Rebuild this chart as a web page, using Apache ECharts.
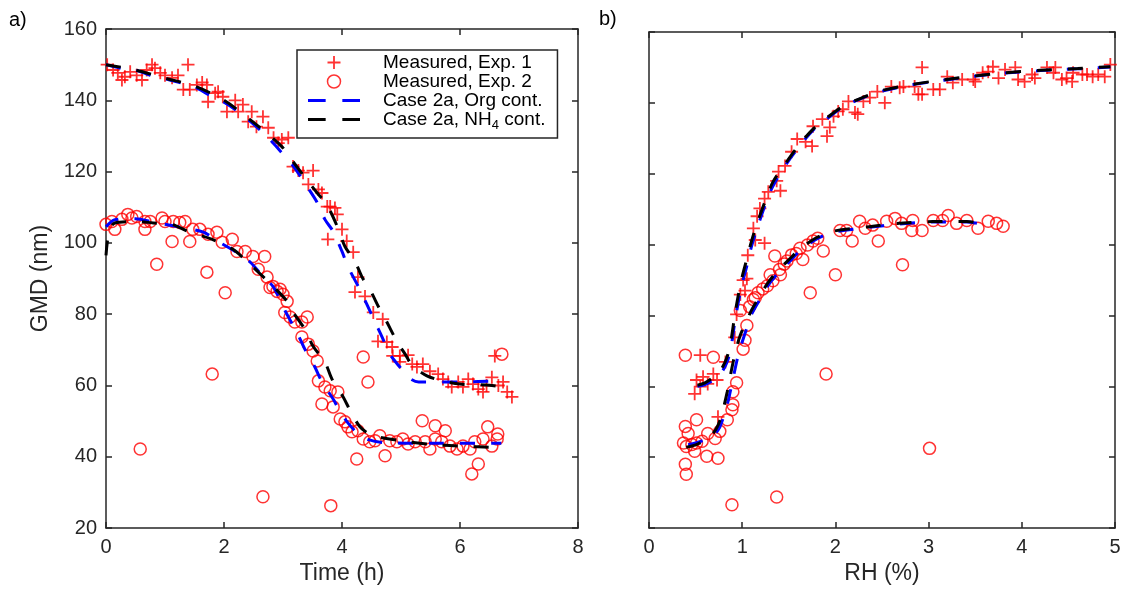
<!DOCTYPE html>
<html lang="en">
<head>
<meta charset="utf-8">
<title>GMD vs time and RH</title>
<script src="https://cdn.jsdelivr.net/npm/echarts@6.0.0/dist/echarts.min.js"></script>
<style>
  html, body { margin: 0; padding: 0; background: #fff; }
  #main { width: 1130px; height: 590px; }
</style>
</head>
<body>
<div id="main"></div>
<script>
// ---- data ----
// panel a) GMD (nm) vs time (h)
var timeExp1 = [[0.02,150],[0.12,148.5],[0.2,147.7],[0.27,145.7],[0.32,146.6],[0.41,148],[0.52,147],[0.61,145.7],
  [0.69,148.5],[0.78,150],[0.83,149],[0.92,147.7],[1.0,147],[1.12,146.3],[1.22,147],[1.31,143],[1.39,150],[1.42,143],
  [1.54,144.3],[1.63,145],[1.71,144.3],[1.73,139.6],[1.85,142],[1.9,142.4],[1.98,141],[2.05,136.8],[2.19,140],
  [2.24,136.8],[2.32,138.8],[2.41,134],[2.47,136.8],[2.55,132.6],[2.66,135.4],[2.75,132.3],[2.84,129.5],[2.92,128],
  [2.98,129],[3.09,129.5],[3.17,121.4],[3.26,120.3],[3.34,119.7],[3.43,116.4],[3.51,120.3],[3.6,115],[3.66,114],
  [3.75,110.2],[3.8,110.2],[3.76,101],[3.88,109.8],[3.92,108],[4.0,103.8],[4.08,100.5],[4.19,97.4],[4.22,86.2],
  [4.27,90.4],[4.39,85],[4.53,80.5],[4.61,72.4],[4.69,78.6],[4.76,72.2],[4.85,70.8],[4.86,68.3],[4.98,66.6],
  [4.98,68.3],[5.12,68.5],[5.19,66],[5.27,65.2],[5.37,66],[5.49,64],[5.63,63.2],[5.71,61.8],[5.8,61],[5.86,59.6],
  [5.97,61],[6.05,59.6],[6.14,61.8],[6.22,60.4],[6.31,59],[6.39,58.2],[6.45,60],[6.54,62.3],[6.59,68.3],[6.65,60],
  [6.73,61],[6.8,58.2],[6.88,56.8]];
var timeExp2 = [[0,105.2],[0.1,106],[0.15,103.8],[0.27,106.6],[0.37,108],[0.44,107],[0.52,107.4],[0.58,42.2],
  [0.66,106],[0.66,103.8],[0.75,106],[0.86,94],[0.95,107],[1.0,106],[1.12,100.4],[1.14,106],[1.25,105.7],[1.34,106],
  [1.42,100.4],[1.47,103.8],[1.59,103.8],[1.71,91.8],[1.73,102.4],[1.8,63.2],[1.88,103],[1.97,100.2],[2.02,86],
  [2.14,101],[2.22,97.6],[2.36,97.6],[2.49,96.2],[2.58,92.6],[2.66,28.8],[2.69,96.2],[2.73,90.4],[2.78,87.5],
  [2.83,87.8],[2.9,86.4],[2.95,87],[3.0,85.6],[3.07,83.6],[3.03,80.5],[3.12,79.2],[3.2,77.8],[3.32,77.8],[3.41,79.2],
  [3.32,73.6],[3.43,71.6],[3.51,69.7],[3.58,66.9],[3.6,61.3],[3.71,59.6],[3.8,58.5],[3.81,26.3],[3.93,58.2],
  [3.66,54.8],[3.85,54],[3.97,50.6],[4.05,49.8],[4.1,48.4],[4.17,47],[4.25,39.4],[4.27,47.3],[4.36,45],[4.36,68],
  [4.44,61],[4.47,44.2],[4.56,44.5],[4.64,45.9],[4.73,40.3],[4.81,44.5],[4.93,44.2],[5.03,45],[5.12,43.6],
  [5.24,44.2],[5.36,50.1],[5.41,44.2],[5.49,42.2],[5.58,48.7],[5.58,45],[5.69,44.2],[5.75,47.3],[5.83,43],
  [5.95,42.2],[6.05,43],[6.17,42.2],[6.25,44.2],[6.2,35.2],[6.31,38],[6.39,45],[6.47,48.4],[6.54,43],[6.63,45],
  [6.64,46.4],[6.71,68.8]];
var timeOrg1 = [[0,150],[0.25,149],[0.5,148.5],[0.75,147],[1.0,146],[1.25,145],[1.5,143.8],[1.75,141.5],[2.0,139.5],
  [2.2,137.3],[2.45,134],[2.7,130.3],[2.98,125.3],[3.2,121],[3.4,116],[3.57,111.6],[3.71,106.6],[3.85,103.2],
  [4.0,97.6],[4.1,93.4],[4.3,87],[4.42,82.8],[4.56,77.8],[4.68,73.6],[4.81,68.8],[4.98,65.2],[5.15,62],[5.3,61],
  [6.0,61],[6.7,61.3]];
var timeNh1 = [[0,150],[0.5,148.5],[1,146.2],[1.5,144],[2,140],[2.5,133.8],[2.98,127],[3.17,122.8],[3.4,117.8],
  [3.57,114.2],[3.74,110.8],[3.92,104.6],[4.05,99],[4.22,94.8],[4.34,90.4],[4.47,87],[4.64,81.4],[4.76,77.8],
  [4.93,72.4],[5.07,68.8],[5.2,65.5],[5.44,62.7],[5.7,61.3],[6.0,60.4],[6.5,60.1],[6.7,59.6]];
var timeOrg2 = [[0,104.5],[0.15,106.5],[0.5,106.8],[0.8,105.8],[1.2,104.6],[1.65,103],[1.88,100.6],[2.2,97.5],
  [2.45,94.5],[2.66,90.6],[2.83,87.8],[2.95,84],[3.05,80.5],[3.25,74.4],[3.37,70.2],[3.54,65.2],[3.66,61],
  [3.85,56.2],[3.97,52.6],[4.1,49.5],[4.25,46.8],[4.45,44.8],[4.7,44],[5.5,43.8],[6.7,43.8]];
var timeNh2 = [[0,96.5],[0.05,103],[0.15,105.6],[0.5,106],[0.8,105.6],[1.12,105.2],[1.39,103.2],[1.8,101],
  [2.15,98.2],[2.39,94.8],[2.6,91.5],[2.85,87.5],[3.07,83.6],[3.17,80.6],[3.37,75.8],[3.51,71],[3.71,66.6],
  [3.83,61.8],[4.02,56.8],[4.14,52.9],[4.3,48.5],[4.45,46.5],[4.6,45.6],[5.0,44.5],[5.5,43.5],[6.0,43],[6.7,42.6]];

// panel b) GMD (nm) vs RH (%)
var rhExp1 = [[2.93,150],[4.95,150.8],[4.82,148],[4.7,148],[4.55,148.5],[4.48,147],[4.43,146.6],[4.34,148.5],
  [4.27,150],[4.11,148],[3.96,146.6],[3.82,149.4],[3.75,147],[3.69,150.2],[3.58,148.5],[3.48,146.6],[3.36,146.6],
  [3.26,145.7],[3.2,147.4],[3.05,143.8],[2.89,142.4],[2.85,144.6],[2.69,144.3],[2.6,144.6],[2.53,140],[2.45,143.2],
  [2.37,141.5],[2.3,140.4],[2.24,136.8],[2.21,137.3],[2.14,140.4],[2.08,138.2],[2.03,137.6],[1.98,136.2],
  [1.94,133.1],[1.91,130.6],[1.86,135.4],[1.76,133.4],[1.75,127.8],[1.68,129],[1.59,129.8],[1.53,126.2],
  [1.46,122.2],[1.39,120.6],[1.37,118],[1.41,115.2],[1.28,114.9],[1.24,113],[1.19,110.2],[1.16,108],[1.12,104.6],
  [1.24,100.4],[1.14,101.3],[1.06,97],[1.01,90],[1.03,87],[1.05,90.4],[0.98,85.9],[0.94,80.3],[0.92,73.8],
  [0.55,68.8],[0.82,66.9],[0.51,61.8],[0.58,62.7],[0.63,60.7],[0.69,63.5],[0.73,61.8],[0.49,57.9],[0.55,59.9],
  [0.74,51.4],[3.5,146],[3.64,148.8],[3.93,150],[4.03,146],[4.14,147],[4.36,150],[4.54,146],[4.65,148],
  [4.76,147.4],[4.89,147.4],[2.73,144.6],[2.93,142.4],[3.12,143.8]];
var rhExp2 = [[3.8,105.2],[3.73,106],[3.64,106.6],[3.53,104.6],[3.41,106.8],[3.3,106],[3.21,108.2],[3.15,106.8],
  [3.05,106.8],[2.93,104],[2.83,106.8],[2.82,104],[2.71,106],[2.64,107.4],[2.55,106.6],[2.46,101],[2.4,105.5],
  [2.32,104.6],[2.26,106.6],[2.18,101],[2.12,104],[2.05,104],[2.0,91.5],[1.87,98.2],[1.81,101.8],[1.76,101],
  [1.7,99.9],[1.65,95.8],[1.53,97.1],[1.48,95.4],[1.35,96.8],[1.41,91.5],[1.3,91.5],[1.73,86.4],[2.72,94.3],
  [1.9,63.5],[3.01,42.5],[1.37,28.8],[0.89,26.6],[0.39,68.8],[0.69,68.2],[0.94,61],[0.9,58.5],[0.9,54.8],
  [0.89,53.4],[0.84,50.6],[0.76,47.3],[0.74,39.7],[0.62,40.3],[0.51,50.6],[0.39,48.7],[0.42,46.7],[0.39,38],
  [0.4,35.2],[0.37,44],[0.4,43],[0.46,43.6],[0.51,44],[0.57,44.5],[0.63,46.7],[0.71,45.3],[0.49,41.7],[0.98,81.4],
  [1.05,77.2],[1.03,73],[1.01,70.5],[1.14,85],[1.17,86.4],[1.27,88.4],[1.33,89.8],[1.08,82.5],[1.12,84.5],
  [1.22,87.5],[1.4,93],[1.45,94.5],[1.58,97.5],[1.62,99]];
var rhOrg1 = [[0.52,60],[0.6,60.5],[0.7,62],[0.78,64],[0.84,67],[0.88,71],[0.92,78],[0.96,84],[1.0,89],[1.05,94],
  [1.1,99.5],[1.16,104.6],[1.25,111.5],[1.33,116.5],[1.48,123],[1.6,127.3],[1.76,132.3],[1.9,135.3],[2.08,138.8],
  [2.3,141.5],[2.5,143.3],[2.8,145],[3.05,146],[3.4,147.2],[3.77,148.3],[4.2,149.1],[4.6,149.6],[4.95,150.1]];
var rhNh1 = [[0.52,60.3],[0.6,61],[0.7,62.8],[0.78,65],[0.84,68.5],[0.88,73],[0.92,80],[0.96,86],[1.0,91],[1.05,96],
  [1.1,101],[1.16,106],[1.25,112.5],[1.33,117.7],[1.48,123.5],[1.6,127.8],[1.76,132.6],[1.9,135.6],[2.08,139],
  [2.3,141.6],[2.5,143.5],[2.8,145.1],[3.05,146.1],[3.4,147.3],[3.77,148.4],[4.2,149.2],[4.6,149.7],[4.95,150.2]];
var rhOrg2 = [[0.42,43.5],[0.5,44],[0.6,45],[0.7,46.4],[0.76,48.5],[0.8,51.5],[0.85,56],[0.9,62],[0.95,68],[1.0,72.5],
  [1.05,76.5],[1.1,80.3],[1.2,85],[1.27,88.2],[1.37,91.5],[1.53,95.8],[1.62,98.2],[1.8,101.6],[1.98,103.5],
  [2.34,104.8],[2.69,105.8],[3.05,106.4],[3.41,106.4],[3.65,105.3]];
var rhNh2 = [[0.4,42.8],[0.5,43.5],[0.6,44.8],[0.68,46.5],[0.74,49],[0.79,53],[0.84,58.5],[0.88,64],[0.93,70],
  [0.98,74.5],[1.05,78.5],[1.1,81.5],[1.2,86],[1.27,89],[1.37,92.3],[1.53,96.5],[1.62,98.8],[1.8,102],[1.98,103.8],
  [2.34,105],[2.69,106],[3.05,106.5],[3.41,106.5],[3.65,105.5]];

var names = ['Measured, Exp. 1', 'Measured, Exp. 2', 'Case 2a, Org cont.', 'Case 2a, NH4 cont.'];

// ---- styles ----
var axisColor = '#262626';
var fontFamily = 'Liberation Sans, Arial, Helvetica, sans-serif';
var red = '#ff0000', blue = '#0000ff', black = '#000000';
var crossPath = 'path://M5.6,0H7.4V5.6H13V7.4H7.4V13H5.6V7.4H0V5.6H5.6Z';
var dashPath = 'path://M0,0H18V3H0Z M35,0H53V3H35Z';
var dash = [15, 16];

var myChart = echarts.init(document.getElementById('main'));

function makeXAxis(grid, max, interval, pos, name) {
    return {
        gridIndex: grid, type: 'value', position: pos, min: 0, max: max, interval: interval,
        name: name, nameLocation: 'middle', nameGap: 28,
        nameTextStyle: { fontFamily: fontFamily, fontSize: 23, color: axisColor },
        axisLine: { show: true, onZero: false, lineStyle: { color: axisColor, width: 1.5 } },
        axisTick: { show: true, inside: true, length: 6, lineStyle: { color: axisColor, width: 1.5 } },
        axisLabel: { show: pos === 'bottom', margin: 9, fontFamily: fontFamily, fontSize: 20, color: axisColor },
        splitLine: { show: false }
    };
}

function makeYAxis(grid, pos, labels, name) {
    return {
        gridIndex: grid, type: 'value', position: pos, min: 20, max: 160, interval: 20,
        name: name, nameLocation: 'middle', nameGap: 54,
        nameTextStyle: { fontFamily: fontFamily, fontSize: 23, color: axisColor },
        axisLine: { show: true, onZero: false, lineStyle: { color: axisColor, width: 1.5 } },
        axisTick: { show: true, inside: true, length: 6, lineStyle: { color: axisColor, width: 1.5 } },
        axisLabel: { show: labels, margin: 9, fontFamily: fontFamily, fontSize: 20, color: axisColor },
        splitLine: { show: false }
    };
}

function crossSeries(x, y, data) {
    return {
        name: names[0], type: 'scatter', xAxisIndex: x, yAxisIndex: y, data: data,
        symbol: crossPath, symbolSize: 13, itemStyle: { color: red }, z: 2
    };
}
function circleSeries(x, y, data) {
    return {
        name: names[1], type: 'scatter', xAxisIndex: x, yAxisIndex: y, data: data,
        symbol: 'circle', symbolSize: 12,
        itemStyle: { color: 'rgba(0,0,0,0)', borderColor: red, borderWidth: 1.5 }, z: 2
    };
}
function curveSeries(name, color, x, y, data) {
    return {
        name: name, type: 'line', xAxisIndex: x, yAxisIndex: y, data: data,
        showSymbol: false, symbol: 'none', smooth: 0.3, z: 3,
        itemStyle: { color: color },
        lineStyle: { color: color, width: 3, type: dash }
    };
}

option = {
    animation: false,
    backgroundColor: '#fff',
    title: [
        { text: 'a)', left: 9, top: 10, padding: 0, textStyle: { fontFamily: fontFamily, fontSize: 20, fontWeight: 'normal', color: '#000' } },
        { text: 'b)', left: 599, top: 9, padding: 0, textStyle: { fontFamily: fontFamily, fontSize: 20, fontWeight: 'normal', color: '#000' } }
    ],
    grid: [
        { left: 106, top: 29, width: 472, height: 500 },
        { left: 649, top: 32, width: 466, height: 500 }
    ],
    xAxis: [
        makeXAxis(0, 8, 2, 'bottom', 'Time (h)'),
        makeXAxis(0, 8, 2, 'top', ''),
        makeXAxis(1, 5, 1, 'bottom', 'RH (%)'),
        makeXAxis(1, 5, 1, 'top', '')
    ],
    yAxis: [
        makeYAxis(0, 'left', true, 'GMD (nm)'),
        makeYAxis(0, 'right', false, ''),
        makeYAxis(1, 'left', false, ''),
        makeYAxis(1, 'right', false, '')
    ],
    legend: {
        orient: 'vertical', left: 297, top: 50,
        padding: [3, 12, 6, 11], itemGap: 0, itemWidth: 52, itemHeight: 13,
        borderColor: axisColor, borderWidth: 1.5, backgroundColor: '#fff',
        selectedMode: false,
        data: [
            { name: names[0], icon: crossPath, itemStyle: { color: red, borderWidth: 0 } },
            { name: names[1], icon: 'circle', itemStyle: { color: 'rgba(0,0,0,0)', borderColor: red, borderWidth: 1.5 } },
            { name: names[2], icon: dashPath, itemStyle: { color: blue, borderWidth: 0 } },
            { name: names[3], icon: dashPath, itemStyle: { color: black, borderWidth: 0 } }
        ],
        formatter: function (name) {
            return name.replace('NH4', 'NH{sub|4}');
        },
        textStyle: {
            fontFamily: fontFamily, fontSize: 19, color: '#000', lineHeight: 17.5, padding: [0, 0, 0, 18],
            rich: {
                sub: { fontFamily: fontFamily, fontSize: 13, color: '#000', padding: [12, 0, 0, 0] }
            }
        }
    },
    series: [
        crossSeries(0, 0, timeExp1),
        circleSeries(0, 0, timeExp2),
        curveSeries(names[2], blue, 0, 0, timeOrg1),
        curveSeries(names[2], blue, 0, 0, timeOrg2),
        curveSeries(names[3], black, 0, 0, timeNh1),
        curveSeries(names[3], black, 0, 0, timeNh2),
        crossSeries(2, 2, rhExp1),
        circleSeries(2, 2, rhExp2),
        curveSeries(names[2], blue, 2, 2, rhOrg1),
        curveSeries(names[2], blue, 2, 2, rhOrg2),
        curveSeries(names[3], black, 2, 2, rhNh1),
        curveSeries(names[3], black, 2, 2, rhNh2)
    ]
};

myChart.setOption(option);
</script>
</body>
</html>
